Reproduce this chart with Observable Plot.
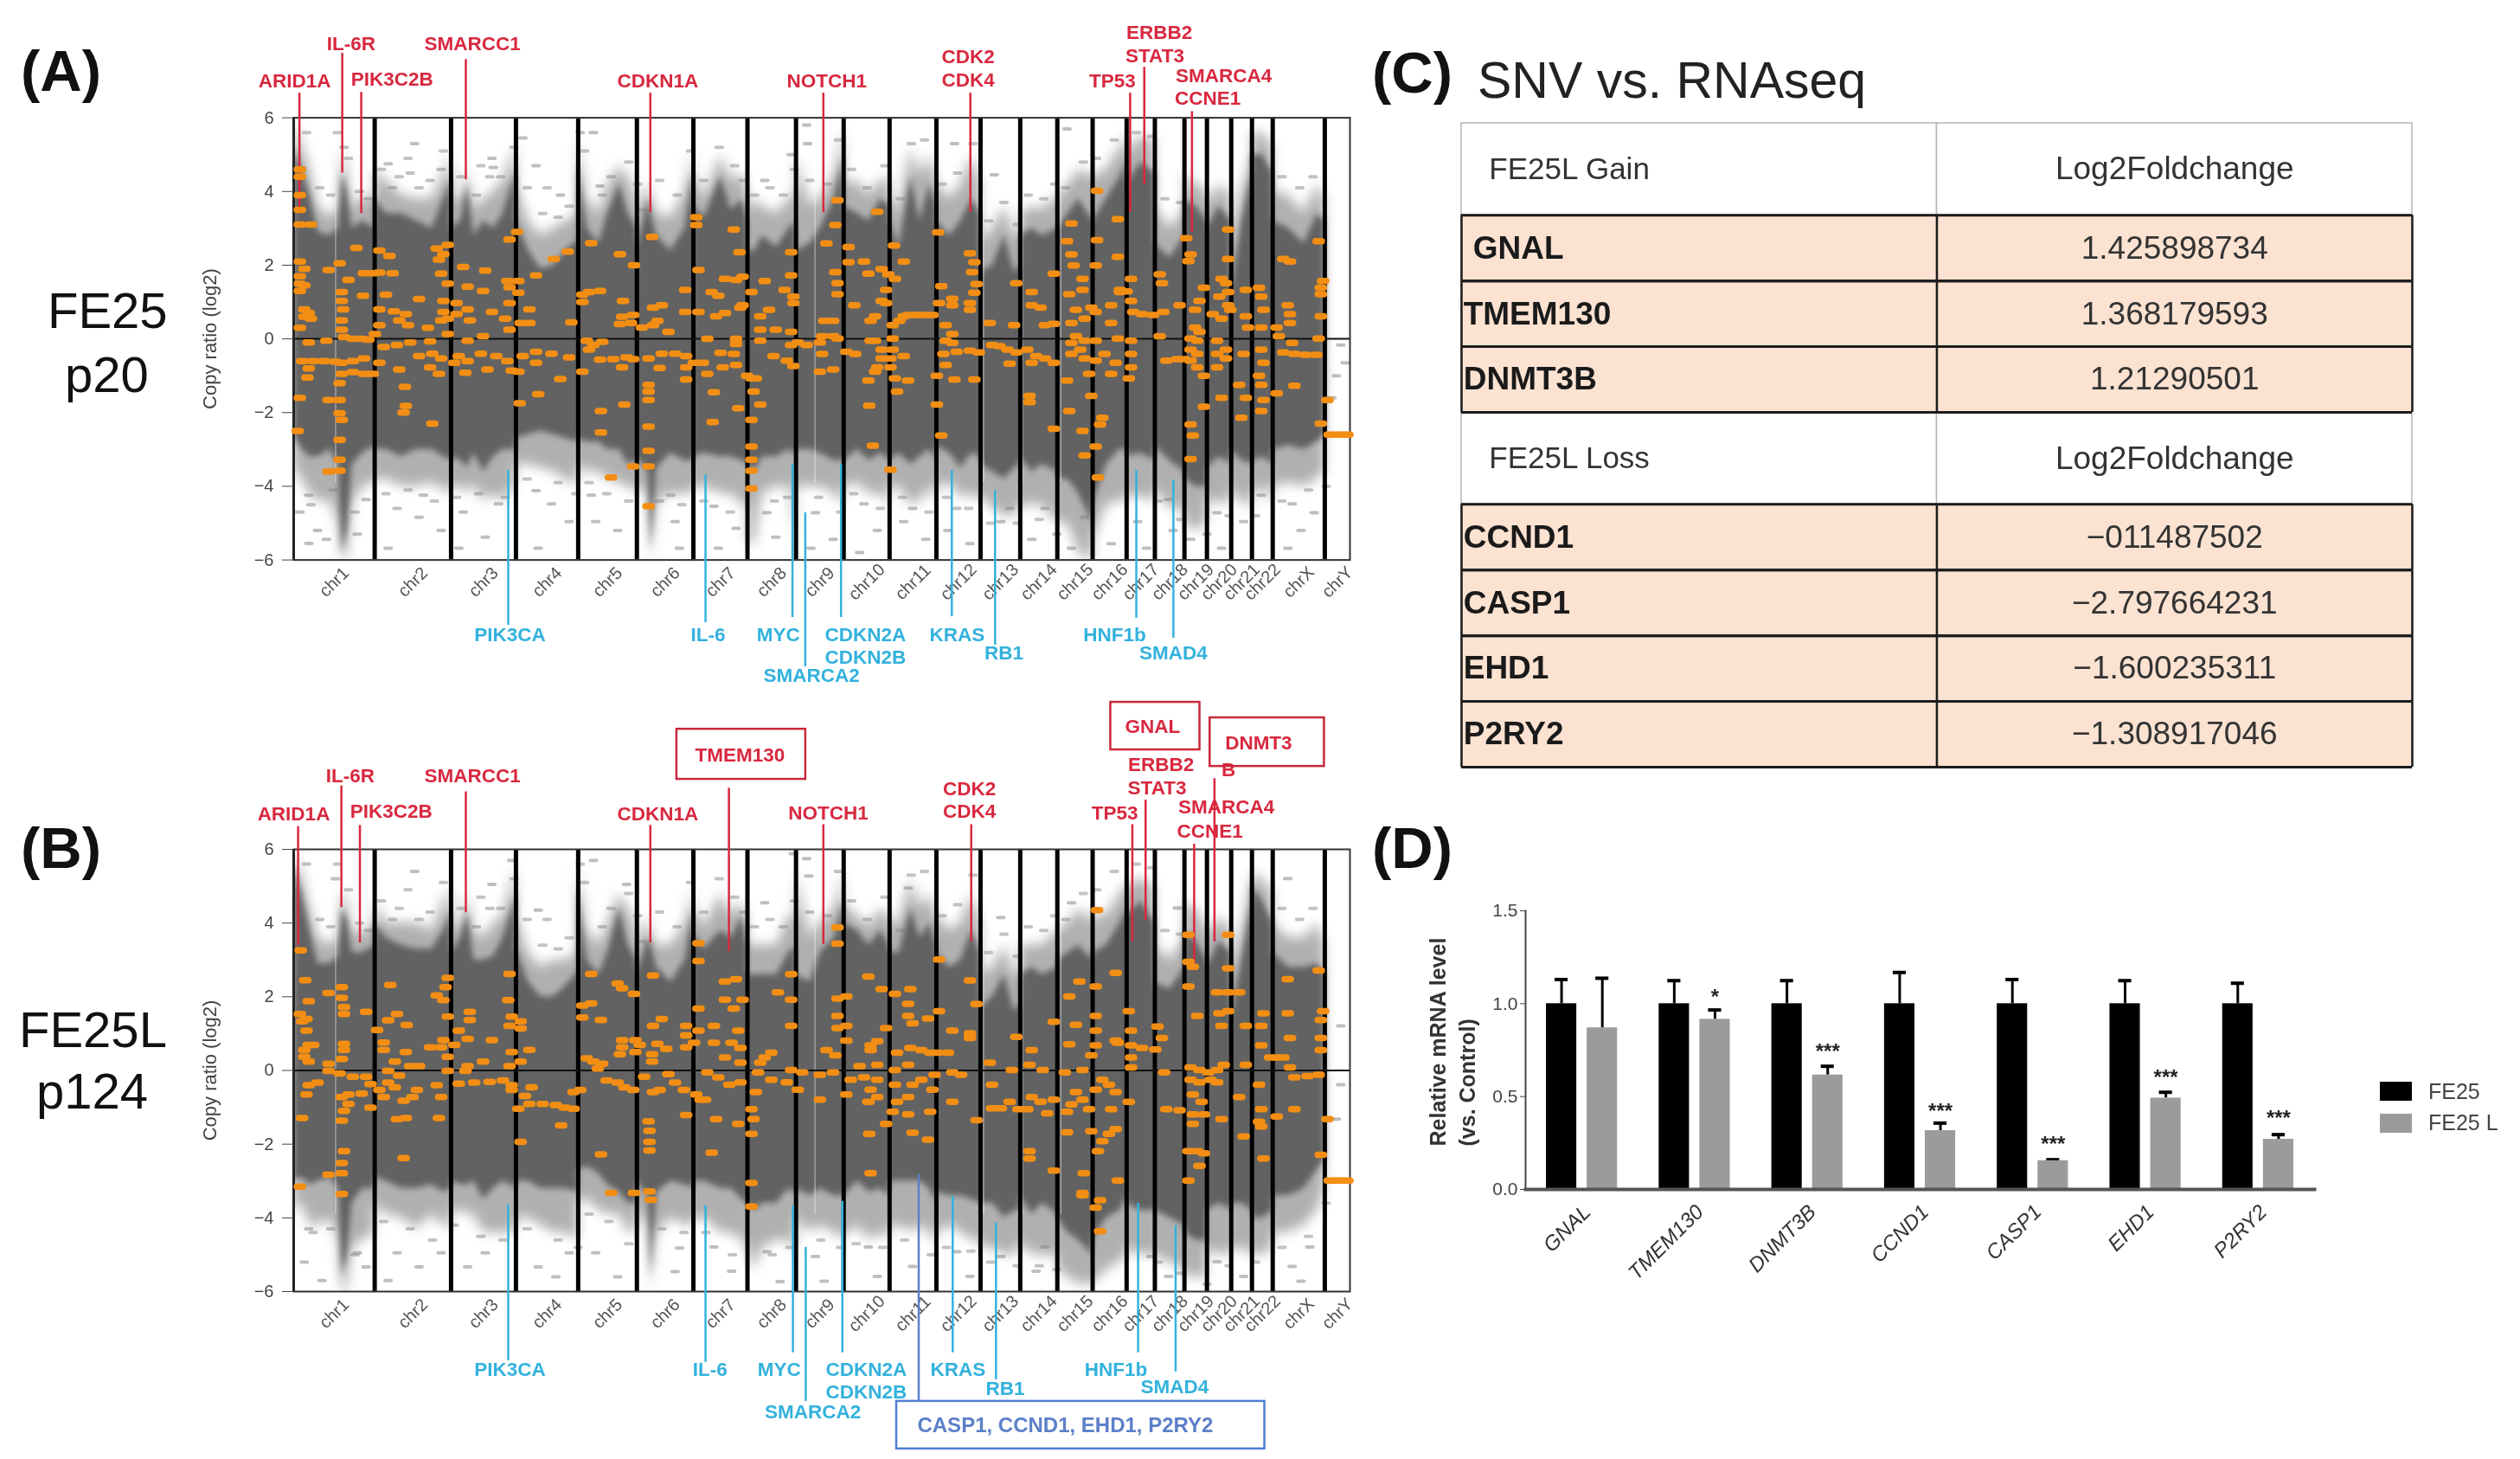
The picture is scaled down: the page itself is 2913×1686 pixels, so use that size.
<!DOCTYPE html>
<html><head><meta charset="utf-8">
<script src="https://cdn.jsdelivr.net/npm/d3@7"></script>
<script src="https://cdn.jsdelivr.net/npm/@observablehq/plot@0.6"></script>
<style>
html,body{margin:0;padding:0;background:#fff}
#page{position:relative;width:2913px;height:1686px;overflow:hidden;font-family:"Liberation Sans",Arial,sans-serif;color:#111;filter:blur(.7px)}
.abs{position:absolute}
.abs svg{overflow:visible}
.t{position:absolute;white-space:nowrap;line-height:1}
</style></head><body><div id="page"></div>
<script>
const chrNames=["chr1","chr2","chr3","chr4","chr5","chr6","chr7","chr8","chr9","chr10","chr11","chr12","chr13","chr14","chr15","chr16","chr17","chr18","chr19","chr20","chr21","chr22","chrX","chrY"];
const chrSpans=[183.5,173,147,141,133,128,122.5,110,108,104,106,100,90,84,80,77,64,67,51,55,47,47,118,57];
const yTicks=[-6,-4,-2,0,2,4,6];

// grey cloud envelopes per chromosome: [fraction, dense top, dense bottom, faint top, faint bottom]
const aCloud=[
[[0,5.2,-2.6,5.9,-3.5],[.1,4.6,-3,5.3,-3.8],[.2,3.9,-3.2,4.6,-4.2],[.3,2.9,-3.2,3.6,-4.4],[.45,2.8,-3,3.3,-4.4],[.55,3,-3.4,3.5,-5],[.6,4.5,-5.8,5.2,-6],[.66,4,-5.2,4.6,-6],[.72,3,-3.4,3.5,-4.5],[.85,3.2,-3.1,3.9,-4],[1,3,-2.9,3.7,-3.9]],
[[0,3.8,-3,4.6,-3.8],[.15,3.4,-3,4.3,-3.8],[.35,3.4,-3.2,3.9,-4],[.55,3.2,-3,3.8,-4],[.75,3,-3,3.8,-3.9],[.9,3.8,-3.2,4.5,-4.1],[1,4.4,-3.3,5,-4.2]],
[[0,3,-3.2,3.8,-4],[.15,3.2,-3.3,3.8,-4],[.25,4.2,-3.5,4.6,-4.2],[.35,2.8,-3.1,3.5,-3.9],[.5,3.2,-3.6,3.8,-4.4],[.65,3,-3.2,4,-4.2],[.8,3.4,-3,4.3,-4.4],[1,4.6,-3,5.3,-3.9]],
[[0,3.2,-2.7,4.2,-3.4],[.2,2.4,-2.6,3.2,-3.4],[.4,1.9,-2.5,2.8,-3.5],[.6,2,-2.6,3,-3.6],[.8,2.4,-2.7,3.2,-3.8],[1,2.7,-2.8,3.4,-4]],
[[0,4.8,-2.7,5.5,-3.4],[.15,3,-2.8,3.8,-3.6],[.35,2.6,-2.8,3.4,-3.6],[.5,3.4,-3,4.2,-3.8],[.7,4.2,-3,4.7,-3.9],[.85,3.4,-3.4,4.4,-4],[1,3,-3.3,3.8,-4.2]],
[[0,2.4,-3.2,3.2,-4],[.2,3.8,-3.6,4.3,-4.2],[.25,3.4,-5.8,3.9,-6],[.35,2.8,-3.5,3.4,-4.4],[.6,2.4,-3.1,3.3,-4.2],[.85,3,-3.3,4,-4.2],[1,4.6,-3.3,5.2,-4.2]],
[[0,3.6,-3.2,4.5,-4],[.2,3.3,-3.1,3.8,-4],[.5,4.4,-3.2,5,-4.2],[.7,3.5,-3.2,4.3,-4.2],[.9,3.8,-3.3,4.5,-4.5],[1,3.2,-3.4,4,-4.5]],
[[0,2.4,-3.4,3.4,-5.5],[.15,2.4,-3.6,3.8,-5.6],[.3,2.8,-3.2,3.6,-4.2],[.6,2.5,-3.2,3.4,-4],[.85,3,-3,3.8,-4],[1,3.2,-3.2,4,-5.5]],
[[0,2.4,-3,5,-4],[.3,2.6,-3,3.6,-4],[.5,3,-3.1,3.8,-4],[.8,3.8,-3.3,4.5,-4.2],[1,5,-3.3,5.8,-4.5]],
[[0,3.6,-3.3,4.2,-4],[.3,3.4,-3,4.3,-3.9],[.55,3.2,-3.3,3.9,-4.2],[.8,3.8,-3.1,4.3,-4.2],[1,3.6,-3.3,4.4,-4.5]],
[[0,3.2,-3.3,4,-4],[.2,2.5,-3.1,3.4,-4],[.45,4.4,-3.4,5.2,-4.5],[.65,3.2,-3.2,4.4,-4.4],[.85,4.2,-3,5,-4],[1,3.6,-3.3,4.4,-4.5]],
[[0,3.2,-2.9,4.2,-4],[.3,2.8,-3.1,3.8,-3.9],[.55,3.2,-3.5,4.2,-4.3],[.8,3.8,-3.1,5,-4.2],[1,3.4,-3.2,4.2,-4.4]],
[[0,1.8,-3.4,2.6,-4.2],[.3,2,-3.6,3,-4.6],[.6,2.8,-3.8,3.6,-4.8],[.85,1.8,-3.5,2.8,-4.8],[1,2,-3.4,2.8,-4.5]],
[[0,2.8,-3.2,3.4,-4.5],[.3,3,-3.6,3.6,-4.5],[.6,2.8,-3.4,3.5,-4.5],[1,3,-3.6,3.9,-5]],
[[0,3,-3.8,3.8,-5],[.3,3.4,-3.8,4.2,-5],[.6,3.8,-4.2,4.6,-5.8],[1,3.2,-5,4.4,-6]],
[[0,3.2,-4.5,4.4,-5.5],[.4,3.8,-3.4,4.6,-4.5],[.8,4.4,-3,5.2,-4.4],[1,4.8,-3,5.6,-4.4]],
[[0,4.2,-3.2,5,-4.2],[.5,4.8,-3.1,5.5,-4.3],[1,4.5,-3.3,5.4,-4.4]],
[[0,2.6,-2.9,3.6,-4],[.5,2.2,-3.3,3,-4.6],[1,2.8,-3.6,3.5,-4.6]],
[[0,3.8,-3.8,4.5,-5],[.5,3.6,-4,4.2,-5.2],[1,3.2,-4,4,-5]],
[[0,3,-3.5,3.6,-4.4],[.5,3.6,-3.2,4.2,-4.4],[1,3.2,-3.4,3.9,-4.5]],
[[0,1.2,-3,2,-4],[.5,3.2,-3.3,4,-4.4],[1,4.5,-3.4,5,-4.6]],
[[0,5,-3.3,5.6,-4.2],[.5,5,-3.2,5.6,-4],[1,4.5,-3.4,5.2,-4.5]],
[[0,3.2,-3,4,-4],[.3,3,-2.9,3.9,-3.9],[.6,2.6,-3,3.4,-4],[.85,3.4,-2.8,4.2,-3.8],[1,3.2,-2.6,3.8,-3.6]],
[]];
const bCloud=[
[[0,5.6,-3,6,-3.8],[.1,4.8,-2.9,5.3,-3.6],[.2,3.8,-3.1,4.4,-4.2],[.3,2.9,-3,3.6,-4.2],[.45,2.9,-2.9,3.4,-4],[.55,3.1,-3.2,3.6,-4.6],[.6,4.4,-5.6,4.9,-6],[.66,4.1,-5,4.6,-6],[.72,3.2,-3.6,3.8,-4.8],[.85,3.2,-3.2,3.7,-4.6],[1,3.4,-3.2,4,-4.4]],
[[0,4,-2.9,4.6,-3.6],[.15,3.6,-3,4,-3.9],[.35,3.4,-3.2,4,-4],[.55,3.3,-3.2,4,-4.3],[.75,3.3,-3.1,3.8,-3.9],[.9,3.8,-3.3,4.6,-4.2],[1,4.4,-3.2,5,-4.3]],
[[0,3.2,-3,3.8,-3.8],[.15,3.6,-3.1,4,-3.8],[.25,4.3,-3.1,4.8,-3.9],[.35,3,-3,3.8,-3.9],[.5,3,-3.5,3.6,-4.4],[.65,3.1,-3.2,4,-4.4],[.8,3.6,-3,4.2,-4.4],[1,4.8,-3.2,5.6,-4.4]],
[[0,3.3,-3,4.2,-4],[.2,2.4,-3,3.2,-4],[.4,2,-3.2,2.8,-4.2],[.6,2,-3.2,3,-4.4],[.8,2.3,-3.2,3,-4.4],[1,2.7,-3.3,3.2,-4.6]],
[[0,5,-2.7,5.6,-3.5],[.15,3,-2.6,3.8,-3.5],[.35,2.6,-2.8,3.4,-3.8],[.5,3.2,-3.1,4,-3.9],[.7,4.4,-3.3,4.8,-3.9],[.85,3.4,-3.6,4.4,-4.4],[1,3,-3.6,3.8,-4.4]],
[[0,2.6,-3,3.2,-3.8],[.2,3.6,-3.4,4.2,-4.2],[.25,3.4,-5.6,3.8,-6],[.35,2.8,-3.3,3.4,-4.4],[.6,2.4,-3,3.4,-4],[.85,3,-3.1,4,-4.2],[1,4.4,-3.2,5,-4.2]],
[[0,3.7,-3,4.4,-4],[.2,3.3,-3,3.9,-4],[.5,3.8,-3.2,4.8,-4.4],[.7,3.6,-3.2,4.2,-4.4],[.9,4.2,-3.5,4.6,-4.6],[1,3.4,-3.6,4,-4.8]],
[[0,2.6,-3.6,3.4,-5],[.15,2.6,-3.8,3.4,-5.4],[.3,2.6,-3.6,3.4,-4.8],[.6,2.6,-3.6,3.4,-4.6],[.85,3.2,-3.2,4.2,-4.6],[1,3.4,-3.4,4.2,-5]],
[[0,2.6,-3.2,5.4,-4],[.3,2.4,-3.4,3.6,-4.4],[.5,3.2,-3.2,4,-4.2],[.8,3.6,-3.4,4.4,-4.4],[1,4.6,-3.4,5.4,-4.6]],
[[0,4,-3.4,4.5,-4.5],[.3,3.8,-3,4.2,-4.2],[.55,3.4,-3.3,3.9,-4.6],[.8,3.8,-3.2,4.4,-4.4],[1,3.4,-3.4,4.2,-4.6]],
[[0,3.2,-3,4,-4.2],[.2,3.2,-3,4,-4.2],[.45,4.4,-3,5.2,-4.4],[.65,3.6,-3,4.4,-4.2],[.85,4,-3.2,4.8,-4.4],[1,3.4,-3.6,4.2,-4.8]],
[[0,3.2,-3.3,4.2,-4.4],[.3,2.8,-3.4,3.8,-4.2],[.55,3,-3.4,4,-4.4],[.8,3.8,-3.5,4.8,-4.6],[1,3.2,-3.6,4,-4.6]],
[[0,1.7,-3.6,2.6,-4.8],[.3,2,-3.6,2.8,-4.8],[.6,2.6,-4,3.4,-5],[.85,1.6,-3.8,2.6,-5],[1,1.8,-3.8,2.6,-4.8]],
[[0,2.6,-3.4,3.4,-4.6],[.3,2.8,-3.9,3.4,-5],[.6,2.6,-3.6,3.4,-5],[1,2.8,-3.9,3.8,-5]],
[[0,3,-4,3.8,-5.4],[.3,3.2,-4.4,4,-5.6],[.6,3.4,-4.6,4.4,-5.8],[1,3,-5,4,-5.8]],
[[0,3.2,-4.6,4.2,-5.8],[.4,3.4,-4,4.2,-5.4],[.8,4,-3.8,4.8,-5.2],[1,4.4,-3.4,5,-5]],
[[0,4.2,-3.6,5,-4.8],[.5,4.6,-3.8,5.2,-5],[1,4,-3.8,5,-5]],
[[0,2.4,-3.8,3.4,-5],[.5,2.2,-4,3,-5.2],[1,2.8,-4.2,3.6,-5.4]],
[[0,3.8,-4.4,4.6,-5.6],[.5,3.5,-4.6,4.4,-5.6],[1,3,-4.6,3.8,-5.6]],
[[0,2.8,-3.8,3.6,-4.8],[.5,3.5,-3.6,4.2,-5],[1,3.2,-3.8,3.8,-5]],
[[0,1.4,-3.6,2.4,-4.8],[.5,3,-3.6,3.8,-4.8],[1,4.6,-3.8,5.2,-5]],
[[0,5,-4,5.4,-5],[.5,4.6,-4,5.2,-5],[1,4,-3.8,4.8,-4.8]],
[[0,3.2,-3.4,4,-4.4],[.3,2.8,-3.4,3.6,-4.4],[.6,2.8,-3.2,3.6,-4.2],[.85,2.9,-2.7,4,-3.8],[1,2.6,-2.4,3.4,-3.2]],
[]];

// isolated grey probes outside the cloud
const aSparse=[[115,5.2],[680,5.6],[275,5.3],[450,4.9],[453,4.65],[550,4.7],[520,5.45],[605,3.9],[695,4.15],[265,4.5],[215,4.75],[335,4.6],[1068,4.3],[1128,5],[1163,5.8],[1165,5.3],[1588,4.45],[1498,5.3],[1753,5.7],[35,-4.24],[15,-4.7],[55,-5.2],[35,-5.55],[145,-5.3],[165,-4.36],[75,-5.44],[235,-4.6],[285,-4.84],[335,-5.2],[215,-5.68],[295,-4.24],[385,-4.7],[435,-5.38],[465,-4.48],[375,-5.68],[555,-5.68],[585,-4.48],[625,-4.96],[550,-4.12],[685,-4.96],[735,-5.2],[675,-4.24],[865,-4.96],[855,-4.24],[875,-5.68],[953,-4.54],[1003,-5.14],[963,-5.68],[1093,-5.38],[1073,-4.72],[1183,-4.72],[1223,-5.44],[1173,-5.68],[1293,-4.48],[1323,-5.2],[1283,-5.8],[1403,-4.6],[1433,-5.44],[1383,-4.96],[1503,-4.6],[1533,-5.56],[1483,-5.2],[1603,-4.96],[1623,-4.6],[1673,-5.44],[1703,-4.6],[1763,-5.68],[1793,-4.84],[1853,-5.56],[1913,-4.96],[1933,-5.68],[1983,-4.36],[1993,-5.2],[2033,-5.44],[2093,-4.72],[2103,-5.68],[2153,-4.96],[2193,-4.24],[2263,-4.48],[2283,-5.2],[2313,-4.72],[2253,-5.68],[2373,-.17],[2383,-.65],[2363,-1],[2353,-1.6]];
const bSparse=[[275,5.4],[450,5.05],[555,4.35],[495,5.7],[755,5.05],[680,5.7],[95,5.2],[1163,5.75],[1168,5.28],[1068,4.55],[1133,5.88],[1603,4.15],[1763,4.55],[1393,4.95],[2003,4.41],[2253,5.21],[2373,1.21],[35,-4.3],[25,-5.2],[65,-5.7],[145,-4.95],[165,-5.33],[235,-4.95],[285,-5.33],[215,-5.7],[335,-4.95],[395,-5.33],[435,-4.95],[555,-5.33],[595,-5.6],[625,-4.95],[685,-4.95],[735,-5.6],[865,-5.46],[875,-4.82],[953,-4.79],[993,-5.45],[1073,-4.92],[1103,-5.73],[1183,-5.05],[1203,-5.72],[1303,-4.79],[1323,-5.59],[1403,-5.32],[1503,-4.92],[1533,-5.59],[1603,-5.05],[1683,-5.45],[1703,-4.79],[1943,-5.05],[1983,-5.59],[2093,-5.19],[2153,-5.59],[2263,-5.32],[2303,-4.79],[2283,-5.72],[2373,-.39],[2363,-1.32]];
const edgeTop=[[60,4.1],[85,3.9],[125,4.9],[100,5.6],[150,4],[170,3.8],[30,5.6],[200,4.6],[240,4.4],[285,4.1],[310,4.3],[340,5.1],[225,4.1],[260,4.9],[380,4.4],[415,3.9],[445,4.4],[470,4.4],[500,5.2],[425,4.7],[530,4.1],[565,3.4],[600,3.3],[625,3.6],[575,4.1],[660,5.1],[700,3.9],[720,4.4],[760,4.8],[780,4.2],[650,5.6],[830,4.3],[870,3.9],[900,5.1],[790,3.5],[930,4.3],[965,5.2],[1000,4.7],[1020,4.3],[1045,3.9],[1080,4.1],[1110,3.9],[1135,4.6],[1170,4.3],[1210,4.2],[1235,5.4],[1265,4.6],[1300,4.1],[1340,4.7],[1375,3.8],[1400,5.3],[1430,5.4],[1470,4.2],[1505,4.5],[1540,5.3],[1575,3.2],[1610,3.7],[1640,3.1],[1665,3.9],[1700,3.8],[1725,4.2],[1750,4.1],[1790,4.8],[1820,4.9],[1860,5.4],[1910,5.6],[1945,5.5],[1975,3.8],[2010,3.7],[2240,4.4],[2280,4.1],[2310,4.4]];
const aEdgeBottom=[[40,-4.5],[90,-4.1],[140,-4.7],[210,-4.2],[260,-4.1],[320,-4.4],[370,-4.3],[420,-4.2],[480,-4.3],[530,-3.8],[600,-3.9],[640,-4.2],[670,-3.9],[710,-4.2],[760,-4.4],[830,-4.4],[880,-4.5],[930,-4.4],[990,-4.7],[1090,-4.4],[1120,-4.3],[1190,-4.3],[1240,-4.7],[1270,-4.2],[1330,-4.6],[1380,-4.3],[1440,-4.7],[1480,-4.3],[1530,-4.6],[1580,-5],[1640,-5],[1690,-4.9],[1730,-5.3],[1960,-4.4],[2010,-4.9],[2070,-5.3],[2120,-4.8],[2180,-4.8],[2240,-4.4],[2300,-4.1],[2340,-4]];
const bEdgeBottom=[[45,-4.4],[85,-4.3],[140,-5],[205,-4.1],[265,-4.3],[315,-4.6],[365,-4.2],[425,-4.5],[475,-4.6],[530,-4.3],[600,-4.6],[645,-4.8],[670,-3.9],[715,-4.1],[760,-4.7],[835,-4.3],[885,-4.4],[935,-4.4],[995,-5],[1085,-5],[1125,-4.8],[1195,-4.6],[1240,-4.8],[1275,-4.7],[1335,-4.8],[1385,-4.6],[1445,-5],[1480,-4.8],[1535,-4.9],[1580,-5.2],[1640,-5.3],[1690,-5.3],[1730,-5.4],[1960,-5.2],[2010,-5.5],[2070,-5.8],[2120,-5.3],[2180,-5.2],[2240,-4.8],[2300,-4.5],[2340,-3.6]];
const probeGaps=[95,1181,1563,1651,1738];

// orange segments: [genome position, log2 ratio]
const aOrange=[[15,2.1],[25,1.9],[15,1.7],[15,1.5],[25,1.45],[15,1.3],[25,.8],[35,.7],[25,.6],[40,.55],[15,.3],[15,3.1],[40,3.1],[15,3.5],[15,3.9],[15,4.4],[15,4.6],[80,1.87],[105,2.05],[143,2.47],[125,1.6],[110,1.27],[110,1.03],[113,.8],[110,.5],[110,.25],[158,1.17],[160,1.78],[180,1.78],[135,0],[155,0],[115,.05],[75,-.05],[35,-.1],[170,-.02],[20,-.6],[45,-.6],[70,-.6],[95,-.62],[110,-.65],[135,-.6],[160,-.53],[35,-.8],[32,-1.05],[110,-.95],[105,-1.2],[135,-.9],[160,-.95],[180,-.95],[15,-1.6],[80,-1.66],[105,-1.66],[105,-2.02],[110,-2.2],[105,-2.74],[105,-3.28],[80,-3.6],[105,-3.58],[10,-2.5],
[195,2.4],[218,2.25],[195,1.8],[225,1.78],[210,1.2],[195,.8],[228,.75],[255,.67],[285,1.08],[195,.37],[240,.5],[260,.37],[305,.3],[335,.5],[325,2.45],[350,2.55],[330,2.15],[340,2.3],[335,1.77],[350,1.5],[340,1.03],[340,.73],[350,.55],[350,.13],[185,.13],[205,-.22],[235,-.17],[265,-.1],[310,-.07],[195,-.65],[285,-.47],[315,-.4],[335,-.53],[240,-.83],[310,-.77],[330,-.95],[253,-1.3],[255,-1.82],[250,-2],[315,-2.3],
[385,1.95],[435,1.85],[395,1.42],[430,1.3],[395,.8],[450,.73],[370,.97],[400,.5],[370,.67],[480,.55],[490,.25],[430,.07],[490,2.7],[507,2.9],[485,1.57],[510,1.57],[490,1.4],[510,1.25],[490,.97],[535,.8],[395,-.05],[365,-.65],[395,-.6],[425,-.4],[460,-.47],[485,-.6],[375,-.47],[390,-.92],[440,-.83],[495,-.86],[510,-.89],[513,-1.75],
[520,-.47],[550,-.35],[585,-.4],[625,-.5],[550,-.65],[605,-1.09],[555,-1.5],[550,1.72],[590,2.17],[622,2.37],[535,.43],[515,.43],[630,.45],
[675,2.6],[655,1.2],[670,1.27],[695,1.3],[655,1],[740,2.3],[772,2],[747,1.03],[745,.6],[770,.65],[740,.4],[765,.43],[665,-.05],[680,-.17],[700,-.08],[670,-.29],[695,-.56],[725,-.55],[755,-.5],[770,-.55],[745,-.77],[655,-.89],[750,-1.78],[697,-1.96],[697,-2.54],[770,-3.46],[720,-3.76],
[813,2.77],[815,.85],[835,.91],[790,.31],[815,.37],[825,.49],[850,.19],[805,-.53],[835,-.4],[865,-.4],[890,-.47],[830,-.79],[888,1.33],[888,.73],[890,-.77],[890,-1.1],[805,-1.25],[805,-1.43],[805,-1.66],[805,-2.38],[805,-3.04],[805,-3.46],[805,-4.54],[913,3.3],[913,3.09],[918,1.87],[918,.73],[908,-.65],
[998,2.97],[1011,2.35],[978,1.63],[1003,1.6],[1018,1.69],[948,1.27],[963,1.17],[1013,.85],[958,.61],[978,.7],[938,0],[1003,0],[1003,-.14],[968,-.38],[998,-.41],[928,-.65],[973,-.77],[1003,-.71],[938,-.95],[1028,-1],[953,-1.45],[1008,-1.88],[950,-2.26],[1038,-1.07],[1048,-1.07],[1043,-1.43],[1058,-1.78],[1038,-2.2],[1038,-2.92],[1038,-3.28],[1038,-3.58],[1038,-4.06],[1038,1.27],[1018,.91],
[1128,2.35],[1128,1.72],[1068,1.57],[1113,1.33],[1133,1.15],[1133,.97],[1078,.79],[1058,.61],[1093,.25],[1128,.19],[1058,.25],[1058,-.05],[1128,-.17],[1143,-.1],[1088,-.47],[1118,-.59],[1133,-.74],
[1233,3.76],[1228,3.09],[1208,2.59],[1228,1.81],[1233,1.51],[1233,1.21],[1203,.49],[1223,.49],[1198,.07],[1233,.01],[1163,-.17],[1193,-.1],[1198,-.41],[1223,-.83],[1193,-.89],[1223,.07],
[1258,2.49],[1258,2.08],[1293,2.1],[1303,1.77],[1333,1.89],[1323,3.45],[1271,.91],[1333,1.03],[1343,.97],[1308,.49],[1318,.61],[1308,-.05],[1318,-.05],[1253,-.35],[1273,-.41],[1333,-.29],[1333,-.53],[1323,-.77],[1318,-.89],[1303,-1.13],[1305,-1.81],[1313,-2.9],[1353,-3.55],
[1361,2.53],[1383,2.1],[1348,1.75],[1363,1.63],[1343,1.33],[1383,.61],[1393,.65],[1408,.65],[1418,.65],[1433,.65],[1448,.65],[1373,.49],[1358,.37],[1358,.01],[1358,-.29],[1383,-.47],[1353,-.53],[1353,-.77],[1363,-1.07],[1393,-1.13],[1368,-1.43],
[1461,2.89],[1533,2.32],[1543,2.08],[1538,1.81],[1548,1.49],[1468,1.43],[1543,1.25],[1493,1.09],[1533,.97],[1493,.91],[1463,.97],[1533,.79],[1478,.37],[1493,.13],[1478,-.05],[1493,-.11],[1473,-.41],[1503,-.35],[1533,-.32],[1553,-.37],[1478,-.71],[1458,-1],[1498,-1.1],[1543,-1.1],[1458,-1.78],[1468,-2.62],
[1638,1.51],[1578,.43],[1633,.37],[1583,-.17],[1618,-.29],[1638,-.37],[1623,-.67],[1600,-.2],
[1673,1.27],[1723,1.77],[1673,.91],[1693,.85],[1703,.37],[1723,.41],[1663,-.29],[1683,-.47],[1703,-.53],[1723,-.65],[1673,-.65],[1668,-1.55],[1668,-1.72],[1723,-2.44],
[1763,3.13],[1753,2.65],[1763,2.29],[1768,1.99],[1788,1.63],[1788,1.33],[1758,1.21],[1773,.79],[1793,.55],[1763,.43],[1773,.07],[1793,-.05],[1763,-.11],[1783,-.29],[1763,-.41],[1793,-.53],[1753,-1.13],[1758,-1.96],[1788,-2.5],[1793,-3.16],
[1821,4.02],[1868,3.25],[1821,2.68],[1818,1.99],[1868,2.23],[1808,.85],[1818,.73],[1853,.91],[1873,1.27],[1853,.43],[1868,.01],[1818,-.05],[1838,-.41],[1818,-.59],[1863,-.65],[1803,-.95],[1853,-.95],[1808,-1.55],[1833,-2.14],[1828,-2.32],[1818,-2.92],[1823,-3.76],
[1898,1.63],[1888,1.29],[1873,1.33],[1898,1.03],[1903,.73],[1923,.67],[1948,.65],[1898,-.05],[1898,-.41],[1898,-.77],[1893,-1.07],
[1963,1.75],[1968,1.51],[1971,.73],[2008,.91],[1963,.07],[1978,-.59],[2003,-.55],[2018,-.55],
[2023,2.73],[2033,2.29],[2028,2.11],[2053,1.03],[2043,.79],[2063,1.39],[2043,.31],[2053,.19],[2033,.01],[2048,-.05],[2033,-.29],[2048,-.41],[2033,-.59],[2048,-.77],[2063,-1],[2063,-1.84],[2033,-2.32],[2038,-2.62],[2033,-3.26],
[2118,2.97],[2118,2.17],[2103,1.63],[2113,1.51],[2118,1.27],[2098,1.15],[2118,.91],[2083,.67],[2123,.79],[2103,.55],[2093,-.05],[2113,-.29],[2093,-.41],[2113,-.53],[2093,-.77],[2103,-1.6],
[2158,1.33],[2158,.61],[2163,.31],[2153,-.41],[2143,-1.25],[2158,-1.6],[2148,-2.14],[2188,1.39],[2193,1.15],[2198,.79],[2193,.31],[2193,-.29],[2198,-.65],[2188,-1],[2193,-1.25],[2198,-1.66],[2193,-1.96],[2228,-1.48],[2228,.31],
[2243,2.17],[2258,2.1],[2253,.91],[2258,.67],[2258,.43],[2233,.07],[2263,-.11],[2243,-.37],[2268,-.41],[2293,-.43],[2318,-.43],[2268,-1.27],[2323,2.65],[2333,1.57],[2328,1.39],[2328,1.21],[2328,.61],[2323,.01],[2343,-1.66],[2328,-2.3],[2348,-2.6],[2362,-2.6],[2376,-2.6],[2388,-2.6]];
const bOrange=[[17,3.26],[27,2.45],[35,1.88],[15,1.53],[30,1.4],[20,1.33],[30,1.08],[35,.69],[25,.56],[45,.69],[25,.37],[35,.24],[80,2.1],[110,2.26],[110,1.97],[115,1.72],[115,1.53],[165,1.59],[115,.72],[115,.56],[110,.31],[80,.18],[80,-.01],[105,-.08],[135,-.17],[165,-.17],[55,-.33],[35,-.4],[30,-.65],[175,-.37],[20,-1.29],[125,-.65],[110,-.72],[155,-.63],[125,-.91],[115,-1.1],[110,-1.36],[175,-1.01],[115,-2.19],[110,-2.51],[80,-2.83],[110,-2.79],[110,-3.35],[15,-3.15],
[220,2.32],[215,1.36],[235,1.53],[257,1.23],[190,1.1],[205,.76],[205,.56],[255,.5],[230,.24],[265,.12],[215,-.01],[215,-.33],[240,-.14],[285,.12],[195,-.53],[230,-.46],[280,-.53],[325,-.4],[205,-.72],[250,-.82],[270,-.72],[335,-.72],[235,-1.32],[255,-1.29],[330,-1.29],[250,-2.38],[350,2.51],[345,2.26],[325,2.04],[340,1.91],[350,1.46],[310,.63],[340,.82],[335,.63],[350,.37],[350,-.01],
[400,1.59],[400,1.37],[375,1.08],[395,.86],[365,.69],[450,.82],[430,.24],[395,.12],[390,-.01],[375,-.36],[410,-.33],[445,-.31],[475,-.27],[495,-.4],[495,-.53],[490,2.62],[487,1.91],[495,1.46],[515,1.33],[490,1.21],[515,1.14],[495,.5],[515,.24],[490,.12],
[535,.56],[540,-.46],[525,-.69],[510,-1.04],[535,-.91],[565,-.91],[595,-.94],[615,-1.01],[635,-1.04],[607,-1.49],[515,-1.94],[635,-.59],[650,-.53],
[655,1.76],[675,1.82],[655,1.44],[697,1.37],[675,2.62],[735,2.36],[745,2.23],[772,2.08],[745,.82],[775,.82],[745,.63],[775,.5],[740,.44],[665,.33],[680,.24],[690,.05],[700,.18],[710,-.27],[735,-.33],[750,-.46],[770,-.53],[697,-2.28],[720,-3.32],[772,-3.32],
[815,2.58],[815,1.21],[835,1.4],[825,.72],[845,.59],[785,.69],[813,.44],[813,.24],[795,-.17],[850,-.1],[815,-.59],[830,-.53],[865,-.33],[885,-.53],[890,1.21],[890,.95],[890,.63],[890,-1.21],[805,-1.38],[807,-1.64],[807,-1.94],[807,-2.17],[807,-3.28],[810,-3.51],[918,3.45],[918,2.97],[918,1.68],[918,1.08],[908,.75],[913,-.65],[923,-.79],
[1003,2.48],[978,2.41],[978,1.92],[1018,1.92],[998,1.68],[953,1.21],[1008,1.08],[953,.75],[993,.75],[1013,.61],[978,.35],[1013,.21],[938,-.05],[963,-.19],[988,-.39],[1013,-.32],[933,-.79],[958,-1.32],[1008,-1.45],[948,-2.23],[1038,-1.05],[1043,-1.32],[1038,-1.72],[1038,-3.05],[1038,-3.69],
[1128,2.61],[1128,1.92],[1128,1.21],[1098,2.12],[1083,.48],[1058,.21],[1068,.35],[1128,.01],[1053,-.05],[1118,-.32],[1083,-.25],[1143,-.52],[1048,-.59],
[1233,3.88],[1233,3.44],[1233,1.95],[1253,2.01],[1233,1.48],[1233,1.15],[1208,.55],[1228,.41],[1153,-.05],[1193,-.12],[1223,-.05],[1193,-.79],[1253,-.65],
[1303,2.55],[1333,2.21],[1253,1.21],[1253,.81],[1343,1.15],[1308,.68],[1323,.79],[1308,.55],[1283,.12],[1323,.15],[1263,-.25],[1293,-.19],[1323,-.25],[1308,-.52],[1323,-.72],[1303,-.85],[1305,-1.72],[1308,-2.79],[1343,-1.45],
[1363,2.08],[1398,2.21],[1393,1.81],[1393,1.48],[1403,1.28],[1368,.48],[1398,.61],[1423,.55],[1443,.48],[1363,.01],[1393,.15],[1423,-.25],[1363,-.39],[1403,-.39],[1448,-.52],[1368,-.85],[1393,-.72],[1358,-1.12],[1393,-1.19],[1443,-1.12],[1403,-1.69],[1438,-1.88],
[1463,3.01],[1533,2.44],[1548,1.8],[1463,1.61],[1438,1.41],[1493,1.08],[1533,1.01],[1533,.88],[1458,.48],[1483,.48],[1493,-.05],[1513,-.12],[1453,-.12],[1493,-.85],[1548,-1.35],
[1638,.91],[1578,.21],[1628,.01],[1583,-.39],[1583,-1.03],[1603,-1.03],[1623,-.85],[1643,-1.05],
[1673,.55],[1723,1.32],[1668,.15],[1698,.01],[1673,-.72],[1693,-.85],[1723,-.79],[1663,-1.05],[1708,-1.16],[1668,-2.19],[1668,-2.39],[1723,-2.72],
[1758,2.01],[1781,2.41],[1773,1.24],[1758,.71],[1808,.41],[1748,-.05],[1788,.01],[1773,-.59],[1788,-.79],[1763,-.92],[1753,-1.12],[1753,-1.68],[1791,-2.79],[1788,-3.39],
[1821,4.35],[1818,2.28],[1818,1.48],[1818,1.08],[1818,.68],[1863,.81],[1863,2.65],[1833,-.25],[1848,-.39],[1818,-.52],[1863,-.59],[1803,-1.05],[1853,-1.05],[1808,-1.65],[1863,-1.59],[1848,-1.72],[1833,-1.92],[1823,-2.19],[1788,-3.32],[1818,-3.72],[1828,-3.52],[1828,-4.36],[1868,-2.99],
[1893,1.61],[1898,1.08],[1868,.75],[1898,.68],[1923,.61],[1953,.57],[1898,.35],[1898,.08],[1893,-.85],[1958,1.19],[1968,.88],
[1973,-.05],[1978,-1.05],[2008,-1.08],[2028,3.68],[2028,2.95],[2038,2.81],[2028,2.28],[2048,1.48],[2033,.08],[2053,.01],[2033,-.25],[2053,-.32],[2038,-.65],[2058,-.85],[2038,-1.19],[2063,-1.19],[2038,-1.45],[2028,-2.19],[2048,-2.19],[2063,-2.25],[2053,-2.59],[2028,-2.99],
[2118,3.68],[2118,2.77],[2093,2.12],[2118,2.12],[2143,2.12],[2118,1.61],[2098,1.55],[2103,1.21],[2108,.15],[2093,.01],[2078,-.25],[2093,-.32],[2073,-.05],[2103,-1.32],
[2158,1.21],[2158,.15],[2143,-.72],[2153,-1.79],[2198,1.55],[2193,1.21],[2193,.68],[2188,-.39],[2193,-1.05],[2188,-1.39],[2193,-1.52],[2198,-2.39],[2228,.35],[2213,.35],[2228,-1.25],
[2253,2.48],[2253,1.55],[2258,.88],[2243,.35],[2258,.08],[2268,-.19],[2298,-.15],[2323,-.12],[2268,-1.05],[2323,2.71],[2328,1.37],[2333,1.61],[2328,.88],[2328,.55],[2343,-1.32],[2328,-2.29],[2348,-2.99],[2362,-2.99],[2376,-2.99],[2388,-2.99]];

// gene callouts: label [name, genome pos, level]; leader [genome pos, from, to]
const aRedLabels=[["ARID1A",2,7],["IL-6R",130,8],["PIK3C2B",223,7.04],["SMARCC1",405,8],["CDKN1A",825,7],["NOTCH1",1208,7],["CDK2",1528,7.65],["CDK4",1528,7.02],["TP53",1855,7],["ERBB2",1961,8.31],["STAT3",1951,7.68],["SMARCA4",2107,7.14],["CCNE1",2071,6.53]];
const aRedLeaders=[[13,6.67,3.43],[110,7.75,4.5],[153,6.69,3.4],[390,7.58,4.32],[808,6.67,3.43],[1200,6.67,3.43],[1533,6.67,3.43],[1895,6.67,3.43],[1927,7.37,4.18],[2035,6.17,2.89]];
const aBlueLabels=[["PIK3CA",490,-8.03],["IL-6",939,-8.03],["MYC",1098,-8.03],["SMARCA2",1173,-9.15],["CDKN2A",1295,-8.03],["CDKN2B",1295,-8.64],["KRAS",1503,-8.03],["RB1",1609,-8.54],["HNF1b",1860,-8.03],["SMAD4",1993,-8.52]];
const aBlueLeaders=[[486,-3.57,-7.77],[933,-3.69,-7.7],[1130,-3.4,-7.56],[1159,-4.72,-8.9],[1240,-3.4,-7.56],[1491,-3.57,-7.54],[1589,-4.11,-8.31],[1909,-3.57,-7.58],[1993,-3.83,-8.12]];
const bRedLabels=[["ARID1A",0,6.96],["IL-6R",128,8],["PIK3C2B",221,7.02],["SMARCC1",405,7.98],["CDKN1A",825,6.96],["TMEM130",1011,8.56],["NOTCH1",1211,6.97],["CDK2",1531,7.64],["CDK4",1531,7.03],["TP53",1860,6.97],["GNAL",1946,9.32],["ERBB2",1965,8.3],["STAT3",1956,7.67],["SMARCA4",2113,7.15],["CCNE1",2076,6.49],["DNMT3",2186,8.88],["B",2118,8.16]];
const bRedLeaders=[[10,6.62,3.39],[108,7.72,4.42],[150,6.65,3.46],[390,7.56,4.28],[808,6.65,3.46],[986,7.66,3.23],[1200,6.67,3.42],[1535,6.67,3.49],[1900,6.67,3.49],[1930,7.34,4.07],[2040,6.14,2.83],[2086,7.92,3.49]];
const bRedBoxes=[[868,1160,7.9,9.26],[1851,2053,8.7,9.99],[2076,2335,8.25,9.57]];
const bBlueLabels=[["PIK3CA",490,-8.13],["IL-6",943,-8.12],["MYC",1100,-8.12],["SMARCA2",1176,-9.28],["CDKN2A",1297,-8.12],["CDKN2B",1297,-8.74],["KRAS",1505,-8.12],["RB1",1612,-8.63],["HNF1b",1863,-8.12],["SMAD4",1996,-8.6]];
const bBlueLeaders=[[486,-3.65,-7.88],[933,-3.67,-7.92],[1131,-3.67,-7.66],[1160,-4.8,-8.98],[1243,-3.55,-7.66],[1493,-3.42,-7.66],[1591,-4.14,-8.39],[1913,-3.6,-7.66],[1998,-4.21,-8.18]];
const bLossLabel=[["CASP1, CCND1, EHD1, P2RY2",1748,-9.64]];
const bLossBox=[[1366,2200,-10.27,-8.98]];
const bLossLeader=[[1416,-2.82,-8.98]];

// table
const tableHeads=[["FE25L Gain","Log2Foldchange"],["FE25L Loss","Log2Foldchange"]];
const gainGenes=["GNAL","TMEM130","DNMT3B"];
const gainValues=["1.425898734","1.368179593","1.21290501"];
const lossGenes=["CCND1","CASP1","EHD1","P2RY2"];
const lossValues=["\u2212011487502","\u22122.797664231","\u22121.600235311","\u22121.308917046"];

// bars
const qGenes=["GNAL","TMEM130","DNMT3B","CCND1","CASP1","EHD1","P2RY2"];
const qSeries=["FE25","FE25 L"];
const fe25Mean=[1,1,1,1,1,1,1];
const fe25Top=[1.13,1.124,1.124,1.168,1.13,1.124,1.11];
const feLMean=[.87,.916,.616,.317,.155,.492,.27];
const feLTop=[1.137,.966,.663,.357,.16,.523,.295];
const stars=["","*","***","***","***","***","***"];
const starLevel=[0,1.036,.74,.42,.244,.6,.383];

const RED="#d8283f",BLUE="#33b2dd",ORANGE="#f28e14",LOSS="#5c7fc9";
const FONT="Liberation Sans";
const page=document.getElementById("page");
function place(svg,left,top){const d=document.createElement("div");d.className="abs";d.style.left=left+"px";d.style.top=top+"px";d.appendChild(svg);page.appendChild(d);}
function label(txt,left,top,size,extra){const d=document.createElement("div");d.className="t";d.textContent=txt;d.style.left=left+"px";d.style.top=top+"px";d.style.fontSize=size+"px";if(extra)Object.assign(d.style,extra);page.appendChild(d);}

const chrStart=d3.cumsum([0,...chrSpans.slice(0,-1)]);
const chrEnds=d3.cumsum(chrSpans);
const chrRows=chrNames.map((name,i)=>({name,mid:chrStart[i]+chrSpans[i]/2}));

function panel(opt){
  const cloud=opt.cloud.flatMap((rows,i)=>rows.map(r=>({chr:i,x:chrStart[i]+r[0]*chrSpans[i],top:r[1],bot:r[2],ftop:r[3],fbot:r[4]})));
  const dash=(data,half,stroke,sw,op)=>Plot.ruleY(data,{x1:d=>d[0]-half,x2:d=>d[0]+half,y:d=>d[1],stroke,strokeWidth:sw,strokeOpacity:op,strokeLinecap:"round"});
  const lead=(data,stroke,sw)=>Plot.ruleX(data,{x:d=>d[0],y1:d=>d[1],y2:d=>d[2],stroke,strokeWidth:sw});
  const txt=(data,fill)=>Plot.text(data,{x:d=>d[1],y:d=>d[2],text:d=>d[0],fill,fontSize:22.5,fontWeight:"bold",fontFamily:FONT});
  return Plot.plot({
    width:1580,height:opt.height,marginLeft:339,marginRight:20,marginTop:opt.mt,marginBottom:opt.mb,
    style:{background:"transparent",overflow:"visible",fontFamily:FONT},
    x:{domain:[0,2393],axis:null},y:{domain:[-6,6],axis:null},
    marks:[
      Plot.areaY(cloud,{x:"x",y1:"fbot",y2:"ftop",z:"chr",fill:"#6f6f6f",fillOpacity:.55,curve:"linear",imageFilter:"blur(7px)",clip:true}),
      dash(opt.sparse,7,"#8a8a8a",4,.55),
      dash(edgeTop,7,"#8a8a8a",4,.5),
      dash(opt.edge,7,"#8a8a8a",4,.5),
      Plot.areaY(cloud,{x:"x",y1:"bot",y2:"top",z:"chr",fill:"#626262",curve:"linear",imageFilter:"blur(3.5px)",clip:true}),
      Plot.ruleX(probeGaps,{y1:-3.9,y2:3.9,stroke:"#fff",strokeOpacity:.4,strokeWidth:1.5}),
      Plot.ruleX(chrEnds.slice(0,-1),{stroke:"#000",strokeWidth:5}),
      Plot.ruleY([0],{stroke:"#111",strokeWidth:2}),
      Plot.frame({stroke:"#333",strokeWidth:2}),
      Plot.ruleX([0],{stroke:"#222",strokeWidth:3}),
      Plot.axisY({ticks:yTicks,tickSize:13,tickPadding:10,fontSize:20,color:"#444",label:null}),
      Plot.text(chrRows,{x:"mid",y:-6.6,text:"name",rotate:-45,fontSize:20,fill:"#555"}),
      Plot.text(["Copy ratio (log2)"],{x:-190,y:0,text:d=>d,rotate:-90,fontSize:22,fill:"#444"}),
      lead(opt.redLeaders,RED,2.5),lead(opt.blueLeaders,BLUE,2.5),
      ...(opt.extra0||[]),
      dash(opt.orange,7,ORANGE,7.5,1),
      txt(opt.redLabels,RED),txt(opt.blueLabels,BLUE),
      ...(opt.extra||[])
    ]});
}
place(panel({height:790,mt:135.6,mb:143.4,cloud:aCloud,sparse:aSparse,edge:aEdgeBottom,orange:aOrange,redLabels:aRedLabels,redLeaders:aRedLeaders,blueLabels:aBlueLabels,blueLeaders:aBlueLeaders}),0,0);
place(panel({height:896,mt:191,mb:194,cloud:bCloud,sparse:bSparse,edge:bEdgeBottom,orange:bOrange,redLabels:bRedLabels,redLeaders:bRedLeaders,blueLabels:bBlueLabels,blueLeaders:bBlueLeaders,
  extra0:[Plot.ruleX(bLossLeader,{x:d=>d[0],y1:d=>d[1],y2:d=>d[2],stroke:LOSS,strokeWidth:2.5})],
  extra:[
    Plot.rect(bRedBoxes,{x1:d=>d[0],x2:d=>d[1],y1:d=>d[2],y2:d=>d[3],fill:"none",stroke:"#c9283c",strokeWidth:2.5}),
    Plot.rect(bLossBox,{x1:d=>d[0],x2:d=>d[1],y1:d=>d[2],y2:d=>d[3],fill:"none",stroke:"#4f7ed0",strokeWidth:2.5}),
    Plot.text(bLossLabel,{x:d=>d[1],y:d=>d[2],text:d=>d[0],fill:LOSS,fontSize:24,fontWeight:"bold"})
  ]}),0,790);

// panel C table, drawn from rows in row-height units
const rowSpec=[
  {kind:"head",name:tableHeads[0][0],value:tableHeads[0][1],h:1.4,ins:.058},
  ...gainGenes.map((g,i)=>({kind:"body",name:g,value:gainValues[i],h:1,ins:i==0?.024:.004})),
  {kind:"head",name:tableHeads[1][0],value:tableHeads[1][1],h:1.4,ins:.058},
  ...lossGenes.map((g,i)=>({kind:"body",name:g,value:lossValues[i],h:1,ins:.004}))];
let acc=0;rowSpec.forEach(r=>{r.y1=acc;acc+=r.h;r.y2=acc;});
const cells=rowSpec.flatMap(r=>[0,1].map(c=>({...r,c})));
const body=rowSpec.filter(r=>r.kind=="body");
const heads=rowSpec.filter(r=>r.kind=="head");
place(Plot.plot({
  width:1119,height:764,margin:10,
  style:{background:"transparent",overflow:"visible",fontFamily:FONT},
  x:{domain:[0,2],axis:null},y:{domain:[acc,0],axis:null},
  marks:[
    Plot.rect(cells,{x1:"c",x2:d=>d.c+1,y1:"y1",y2:"y2",fill:d=>d.kind=="body"?"#fbe2d1":"#fff",stroke:"#b5b5b5",strokeWidth:1.5}),
    Plot.ruleX(body,{x:0,y1:"y1",y2:"y2",stroke:"#1c1c1c",strokeWidth:2.5}),
    Plot.ruleX(body,{x:1,y1:"y1",y2:"y2",stroke:"#1c1c1c",strokeWidth:2.5}),
    Plot.ruleX(body,{x:2,y1:"y1",y2:"y2",stroke:"#1c1c1c",strokeWidth:2.5}),
    Plot.ruleY(body,{y:"y1",x1:0,x2:2,stroke:"#1c1c1c",strokeWidth:3}),
    Plot.ruleY(body,{y:"y2",x1:0,x2:2,stroke:"#1c1c1c",strokeWidth:3}),
    Plot.text(heads,{x:"ins",y:d=>(d.y1+d.y2)/2,text:"name",textAnchor:"start",fontSize:35,fill:"#333"}),
    Plot.text(body,{x:"ins",y:d=>(d.y1+d.y2)/2,text:"name",textAnchor:"start",fontSize:37,fontWeight:"bold",fill:"#1a1a1a"}),
    Plot.text(rowSpec,{x:1.5,y:d=>(d.y1+d.y2)/2,text:"value",fontSize:37,fill:"#333"})
  ]}),1679,132);

// panel D bars
const barRows=qGenes.flatMap((g,i)=>[
  {gene:g,series:qSeries[0],v:fe25Mean[i],top:fe25Top[i]},
  {gene:g,series:qSeries[1],v:feLMean[i],top:feLTop[i],star:stars[i],lvl:starLevel[i]}]);
place(Plot.plot({
  width:1132,height:484,marginLeft:200,marginRight:20,marginTop:52,marginBottom:110,
  style:{background:"transparent",overflow:"visible",fontFamily:FONT},
  fx:{domain:qGenes,padding:0,axis:null,round:false},
  x:{domain:qSeries,paddingInner:.255,paddingOuter:.51,axis:null,round:false},
  y:{domain:[0,1.5],axis:null},
  color:{domain:qSeries,range:["#000","#9b9b9d"]},
  marks:[
    Plot.ruleX(barRows,{fx:"gene",x:"series",y1:"v",y2:"top",stroke:"#000",strokeWidth:3}),
    Plot.tickY(barRows,{fx:"gene",x:"series",y:"top",stroke:"#000",strokeWidth:4,insetLeft:10,insetRight:10}),
    Plot.barY(barRows,{fx:"gene",x:"series",y:"v",fill:"series"}),
    Plot.text(barRows.filter(d=>d.star),{fx:"gene",x:"series",y:"lvl",text:"star",fontSize:24,fontWeight:"bold",fill:"#222"}),
    Plot.ruleX(qGenes,{fx:d=>d,y1:0,y2:-.035,stroke:"#333",strokeWidth:2}),
    Plot.text(qGenes,{fx:d=>d,y:0,text:d=>d,rotate:-45,textAnchor:"end",dx:6,dy:22,fontSize:24,fontStyle:"italic",fill:"#333"}),
    Plot.frame({anchor:"left",facet:"super",stroke:"#444",strokeWidth:2}),
    Plot.frame({anchor:"bottom",facet:"super",stroke:"#555",strokeWidth:4}),
    Plot.axisY({ticks:[0,.5,1,1.5],tickFormat:".1f",tickSize:6,tickPadding:3,fontSize:21,color:"#444",label:null}),
    Plot.text(["Relative mRNA level"],{frameAnchor:"left",text:d=>d,facet:"super",rotate:-90,dx:-101,dy:111,fontSize:25,fontWeight:"bold",fill:"#333"}),
    Plot.text(["(vs. Control)"],{frameAnchor:"left",text:d=>d,facet:"super",rotate:-90,dx:-67,dy:111,fontSize:25,fontWeight:"bold",fill:"#333"})
  ]}),1563,1000);

// panel letters and captions
label("(A)",24,48,67,{fontWeight:"bold"});
label("(B)",24,946,67,{fontWeight:"bold"});
label("(C)",1586,50,67,{fontWeight:"bold"});
label("(D)",1586,946,67,{fontWeight:"bold"});
label("FE25",55,330,58);
label("p20",75,404,58);
label("FE25L",22,1161,58);
label("p124",42,1232,58);
label("SNV vs. RNAseq",1708,64,59,{color:"#222"});
// legend
[["#000",1250],["#9b9b9d",1287]].forEach(([c,t])=>{const s=document.createElement("div");s.className="abs";s.style.cssText+=`left:2751px;top:${t}px;width:37px;height:22px;background:${c}`;page.appendChild(s);});
label(qSeries[0],2807,1249,25,{color:"#444"});
label(qSeries[1],2807,1285,25,{color:"#444"});
</script></body></html>
